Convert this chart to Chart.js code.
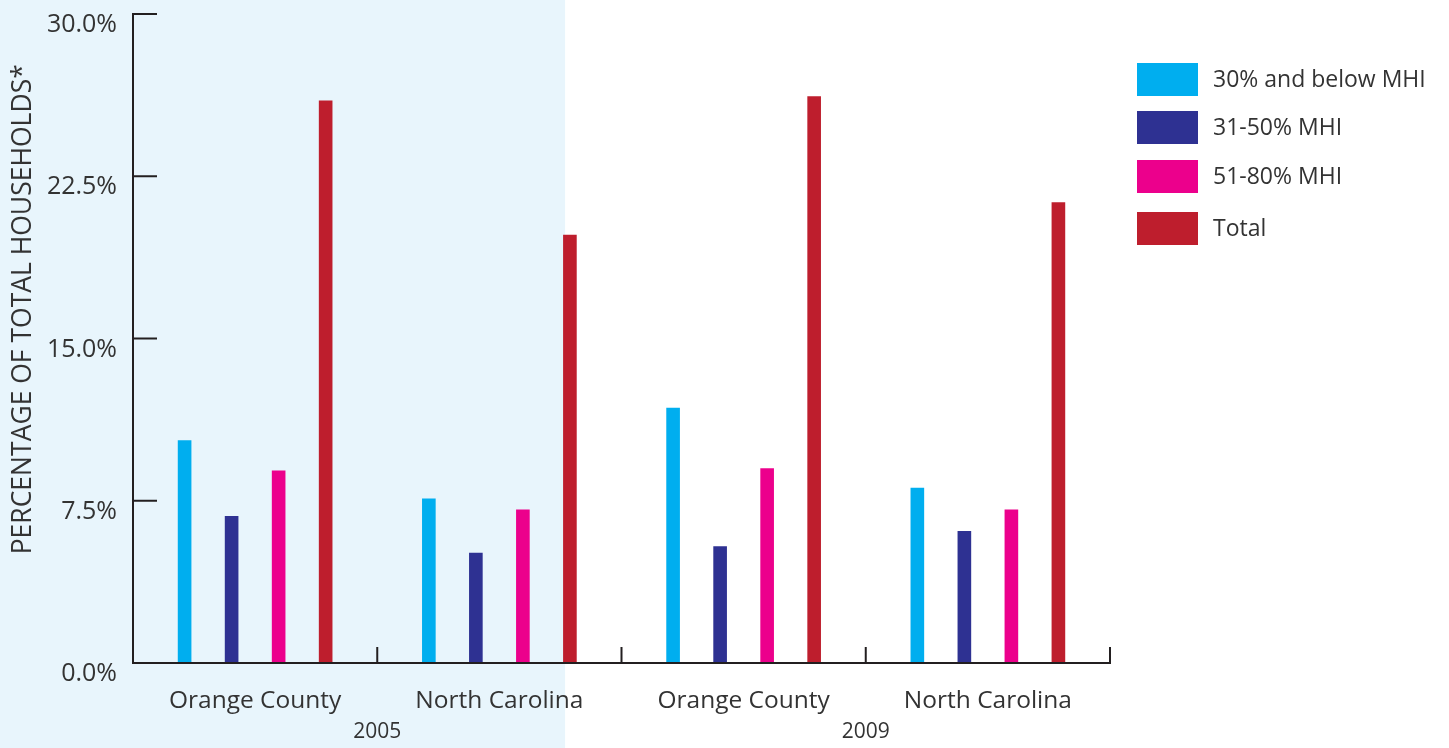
<!DOCTYPE html>
<html>
<head>
<meta charset="utf-8">
<script src="https://cdn.jsdelivr.net/npm/chart.js@4/dist/chart.umd.min.js"></script>
<style>
  html, body { margin: 0; padding: 0; background: #ffffff; }
  #wrap { position: relative; width: 1449px; height: 748px; overflow: hidden; }
  #c { position: absolute; left: 0; top: 0; }
  #legend { position: absolute; left: 1137px; top: 63px; font-family: "Open Sans", sans-serif; font-weight: 400; font-size: 23px; color: #333; }
  .item { position: absolute; left: 0; height: 33px; white-space: nowrap; }
  .sw { position: absolute; left: 0; top: 0; width: 61px; height: 33px; }
  .lab { position: absolute; left: 76px; top: 0; line-height: 30px; }
</style>
</head>
<body>
<div id="wrap">
  <canvas id="c" width="1449" height="748"></canvas>
  <div id="legend"></div>
</div>
<script>
// ---- data ----
const categories = ['Orange County', 'North Carolina', 'Orange County', 'North Carolina'];
const years = ['2005', '2009'];
const seriesNames = ['30% and below MHI', '31-50% MHI', '51-80% MHI', 'Total'];
const below30 = [10.3, 7.6, 11.8, 8.1];
const mhi31to50 = [6.8, 5.1, 5.4, 6.1];
const mhi51to80 = [8.9, 7.1, 9.0, 7.1];
const totalVals = [26.0, 19.8, 26.2, 21.3];
const yTicks = [0, 7.5, 15, 22.5, 30];
const yTitle = 'PERCENTAGE OF TOTAL HOUSEHOLDS*';

const colors = ['#00aeef', '#2e3192', '#ec008c', '#be1e2d'];
const FONT = '"Open Sans", sans-serif';
const TEXT = '#333333';
const AXIS = '#231f20';

const seriesValues = [below30, mhi31to50, mhi51to80, totalVals];

// legend (HTML)
const legendTops = [0, 48, 97, 149];
const lg = document.getElementById('legend');
seriesNames.forEach((n, i) => {
  const d = document.createElement('div');
  d.className = 'item';
  d.style.top = legendTops[i] + 'px';
  d.innerHTML = '<div class="sw" style="background:' + colors[i] + '"></div><div class="lab">' + n + '</div>';
  lg.appendChild(d);
});

const decor = {
  id: 'decor',
  beforeDraw(chart) {
    const ctx = chart.ctx;
    // light blue panel behind the 2005 group, ends at left edge of its last bar
    const meta = chart.getDatasetMeta(3);
    const el = meta.data[1];
    const right = el.x - el.width / 2 + 2;
    ctx.save();
    ctx.fillStyle = '#e8f5fc';
    ctx.fillRect(0, 0, right, chart.height);
    ctx.restore();
  },
  afterDatasetsDraw(chart) {
    const ctx = chart.ctx;
    const x = chart.scales.x, y = chart.scales.y;
    const ca = chart.chartArea;
    ctx.save();
    ctx.strokeStyle = AXIS;
    ctx.lineWidth = 2;
    ctx.lineCap = 'butt';
    // y axis line
    ctx.beginPath();
    ctx.moveTo(ca.left, y.getPixelForValue(30) - 1);
    ctx.lineTo(ca.left, y.getPixelForValue(0) + 1);
    ctx.stroke();
    // y ticks inward
    yTicks.forEach(v => {
      const py = y.getPixelForValue(v);
      ctx.beginPath();
      ctx.moveTo(ca.left, py);
      ctx.lineTo(ca.left + 24, py);
      ctx.stroke();
    });
    // x axis line
    const by = y.getPixelForValue(0);
    ctx.beginPath();
    ctx.moveTo(ca.left, by);
    ctx.lineTo(x.getPixelForValue(categories.length - 0.5) + 1, by);
    ctx.stroke();
    // x ticks upward at category boundaries
    for (let i = 1; i <= categories.length; i++) {
      const px = x.getPixelForValue(i - 0.5);
      ctx.beginPath();
      ctx.moveTo(px, by);
      ctx.lineTo(px, by - 16);
      ctx.stroke();
    }
    // year labels
    ctx.fillStyle = TEXT;
    ctx.font = '400 21px ' + FONT;
    ctx.textAlign = 'center';
    ctx.textBaseline = 'middle';
    years.forEach((yr, k) => {
      const px = x.getPixelForValue(k * 2 + 0.5);
      ctx.fillText(yr, px, 732);
    });
    // y title
    ctx.translate(23, ca.top + (ca.bottom - ca.top) * 0.455);
    ctx.rotate(-Math.PI / 2);
    ctx.font = '400 26.5px ' + FONT;
    ctx.fillText(yTitle, 0, 0);
    ctx.restore();
  }
};

new Chart(document.getElementById('c'), {
  type: 'bar',
  data: {
    labels: categories,
    datasets: seriesNames.map((n, i) => ({
      label: n,
      data: seriesValues[i],
      backgroundColor: colors[i],
      borderWidth: 0,
      categoryPercentage: 0.77,
      barPercentage: 0.29
    }))
  },
  options: {
    responsive: false,
    animation: false,
    layout: { padding: { top: 14, right: 339, bottom: 0, left: 0 } },
    plugins: { legend: { display: false }, tooltip: { enabled: false } },
    scales: {
      x: {
        grid: { display: false, drawTicks: false },
        border: { display: false },
        ticks: { color: TEXT, font: { family: FONT, size: 24.5, weight: '400' }, padding: 23, maxRotation: 0, autoSkip: false },
        afterFit(s) { s.height = 85; s.paddingLeft = 0; s.paddingRight = 0; }
      },
      y: {
        min: 0, max: 30,
        afterBuildTicks(s) { s.ticks = yTicks.map(v => ({ value: v })); },
        grid: { display: false, drawTicks: false },
        border: { display: false },
        ticks: {
          color: TEXT, font: { family: FONT, size: 25, weight: '400' }, padding: 16, labelOffset: 11,
          callback: v => Number(v).toFixed(1) + '%'
        },
        afterFit(s) { s.width = 133; s.paddingTop = 0; s.paddingBottom = 0; }
      }
    }
  },
  plugins: [decor]
});
</script>
</body>
</html>
